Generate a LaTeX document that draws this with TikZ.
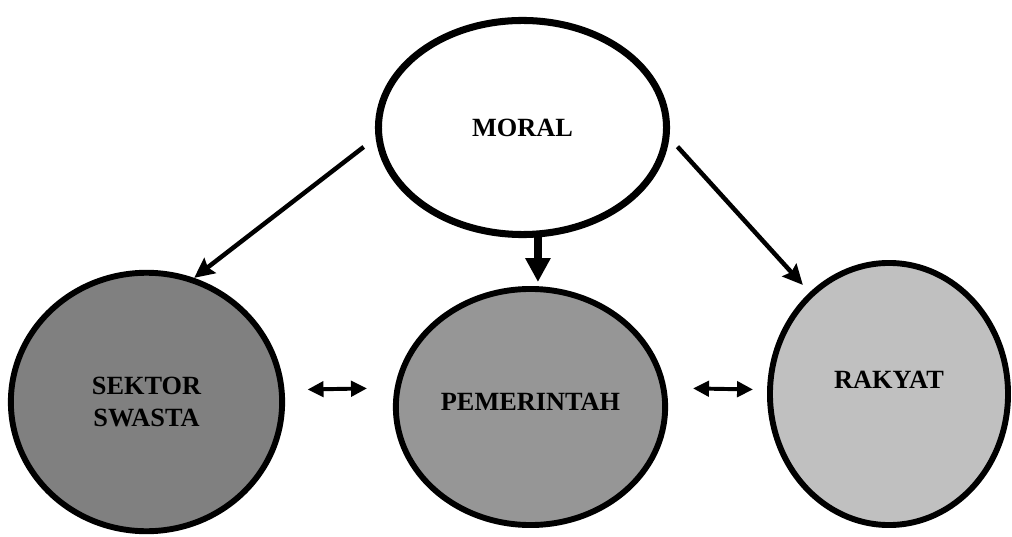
\documentclass[tikz,border=0pt]{standalone}
\usepackage{fontspec}
\setmainfont{Liberation Serif}
\usepackage{xcolor}
\usetikzlibrary{arrows.meta,shapes.geometric}

\definecolor{swastagray}{HTML}{808080}
\definecolor{pemgray}{HTML}{969696}
\definecolor{rakyatgray}{HTML}{C0C0C0}

\begin{document}
\begin{tikzpicture}[
        x=0.025cm, y=-0.025cm,
        font=\fontsize{18.7}{22.8}\selectfont\bfseries,
        blob/.style={draw, ellipse, line width=4.2pt, inner sep=0pt, align=center},
        arr/.style={-{Stealth[length=0.5cm, width=0.47cm, inset=0.07cm]}, line width=3.2pt},
        bigarr/.style={-{Triangle[length=0.6cm, width=0.6cm]}, line width=5.8pt},
        dbl/.style={{Triangle[length=0.4cm, width=0.38cm]}-{Triangle[length=0.4cm, width=0.38cm]}, line width=2.8pt}
    ]
        \useasboundingbox (0,0) rectangle (1012,537);
        \node[blob, line width=5pt, fill=white, minimum width=7.2cm, minimum height=5.35cm] (moral) at (522.5,127.5) {MORAL};
        \node[blob, fill=swastagray, minimum width=6.78cm, minimum height=6.46cm] (sektor) at (146.5,402) {SEKTOR\\SWASTA};
        \node[blob, fill=pemgray, minimum width=6.73cm, minimum height=5.9cm, text depth=0.25cm] (pemerintah) at (530.5,407) {PEMERINTAH};
        \node[blob, fill=rakyatgray, minimum width=5.95cm, minimum height=6.55cm, text depth=0.7cm] (rakyat) at (889,394) {RAKYAT};
        \draw[arr, shorten <=0.375cm] (moral.184) -- (sektor.69);
        \draw[arr, shorten <=0.3cm, shorten >=0.25cm] (moral.356) -- (rakyat.128);
        \draw[bigarr, shorten >=0.1cm] (moral.-82) -- (moral.-82 |- pemerintah.north);
        \draw[dbl, shorten <=0.575cm, shorten >=0.69cm] (sektor.5) -- (pemerintah.172);
        \draw[dbl, shorten <=0.665cm, shorten >=0.35cm] (pemerintah.8) -- (rakyat.178);
    \end{tikzpicture}
\end{document}
